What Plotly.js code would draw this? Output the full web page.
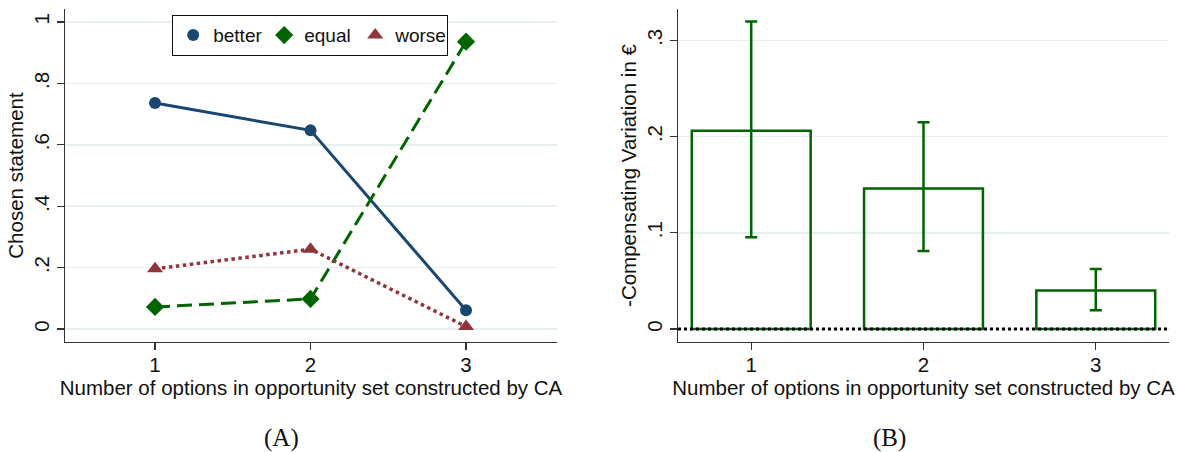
<!DOCTYPE html>
<html>
<head>
<meta charset="utf-8">
<script src="https://cdn.plot.ly/plotly-3.0.1.min.js"></script>
<style>
html,body{margin:0;padding:0;background:#fff;}
#chart{width:1177px;height:452px;}
</style>
</head>
<body>
<div id="chart"></div>
<script>
// ---- data ----
const options = [1, 2, 3];
const better = [0.736, 0.647, 0.061];
const equal = [0.072, 0.098, 0.936];
const worse = [0.196, 0.260, 0.008];

const cvMean = [0.206, 0.146, 0.040];
const cvHigh = [0.3195, 0.215, 0.0625];
const cvLow = [0.0955, 0.081, 0.0195];

const leftTickVals = [0, 0.2, 0.4, 0.6, 0.8, 1];
const leftTickText = ["0", ".2", ".4", ".6", ".8", "1"];
const rightTickVals = [0, 0.1, 0.2, 0.3];
const rightTickText = ["0", ".1", ".2", ".3"];

const xTitle = "Number of options in opportunity set constructed by CA";
const leftYTitle = "Chosen statement";
const rightYTitle = "-Compensating Variation in €";
const panelLabels = ["(A)", "(B)"];

// ---- styles ----
const NAVY = "#1a476f", GREEN = "#006400", MAROON = "#90353b";
const FONT = "Liberation Sans, Arial, Helvetica, sans-serif";
const FS = 20.5;
const W = 1177, H = 452;

const traces = [
  {x: options, y: better, xaxis: "x", yaxis: "y", mode: "lines+markers", name: "better", showlegend: false,
   line: {color: NAVY, width: 3}, marker: {symbol: "circle", size: 12, color: NAVY}},
  {x: options, y: equal, xaxis: "x", yaxis: "y", mode: "lines+markers", name: "equal", showlegend: false,
   line: {color: GREEN, width: 3, dash: "15px,7px"}, marker: {symbol: "diamond", size: 14, color: GREEN}},
  {x: options, y: worse, xaxis: "x", yaxis: "y", mode: "lines+markers", name: "worse", showlegend: false,
   line: {color: MAROON, width: 3.5, dash: "dot"}, marker: {symbol: "triangle-up", size: 14, color: MAROON}},
  // legend entries (marker only)
  {x: [null], y: [null], xaxis: "x", yaxis: "y", mode: "markers", name: "better",
   marker: {symbol: "circle", size: 12, color: NAVY}},
  {x: [null], y: [null], xaxis: "x", yaxis: "y", mode: "markers", name: "equal",
   marker: {symbol: "diamond", size: 14, color: GREEN}},
  {x: [null], y: [null], xaxis: "x", yaxis: "y", mode: "markers", name: "worse",
   marker: {symbol: "triangle-up", size: 14, color: MAROON}},
  // bars
  {x: options, y: cvMean, xaxis: "x2", yaxis: "y2", type: "bar", width: 0.69, showlegend: false,
   marker: {color: "rgba(255,255,255,0)", line: {color: GREEN, width: 2.5}}},
  {x: options, y: cvMean, xaxis: "x2", yaxis: "y2", mode: "markers", showlegend: false,
   marker: {size: 0.1, color: "rgba(0,0,0,0)"},
   error_y: {type: "data", symmetric: false,
     array: cvHigh.map((h, i) => h - cvMean[i]),
     arrayminus: cvLow.map((l, i) => cvMean[i] - l),
     color: GREEN, thickness: 2.5, width: 6}}
];

const axisCommon = {
  showline: true, linecolor: "#333", linewidth: 1.2, ticks: "outside", ticklen: 7,
  tickcolor: "#333", tickwidth: 1.2, zeroline: false,
  tickfont: {family: FONT, size: FS, color: "#111"}
};
const titleFont = {family: FONT, size: FS, color: "#111"};

const layout = {
  width: W, height: H,
  margin: {l: 0, r: 0, t: 0, b: 0},
  paper_bgcolor: "#fff", plot_bgcolor: "#fff",
  font: {family: FONT, color: "#111"},
  xaxis: Object.assign({}, axisCommon, {
    domain: [65 / W, 557 / W], range: [0.421, 3.585], tickvals: options, ticktext: options.map(String),
    showgrid: false, anchor: "y", ticklabelstandoff: -3,
    title: {text: xTitle, font: titleFont, standoff: 0}
  }),
  yaxis: Object.assign({}, axisCommon, {
    domain: [110 / H, 443 / H], range: [-0.0423, 1.0423],
    tickvals: leftTickVals, ticktext: leftTickText, tickangle: -90,
    showgrid: true, gridcolor: "#e6eef0", gridwidth: 1.5, anchor: "x",
    title: {text: leftYTitle, font: titleFont, standoff: 0}
  }),
  xaxis2: Object.assign({}, axisCommon, {
    domain: [678 / W, 1169 / W], range: [0.575, 3.425], tickvals: options, ticktext: options.map(String),
    showgrid: false, anchor: "y2", ticklabelstandoff: -3,
    title: {text: xTitle, font: titleFont, standoff: 0}
  }),
  yaxis2: Object.assign({}, axisCommon, {
    domain: [110 / H, 443 / H], range: [-0.0135, 0.3326],
    tickvals: rightTickVals, ticktext: rightTickText, tickangle: -90,
    showgrid: true, gridcolor: "#e6eef0", gridwidth: 1.5, anchor: "x2",
    title: {text: rightYTitle, font: titleFont, standoff: 0}
  }),
  showlegend: true,
  legend: {
    orientation: "h", x: 172 / W, y: (H - 15) / H, xanchor: "left", yanchor: "top",
    bgcolor: "#fff", bordercolor: "#111", borderwidth: 1.2,
    font: {family: FONT, size: 19, color: "#111"},
    entrywidth: 46, entrywidthmode: "pixels", itemclick: false, tracegroupgap: 0
  },
  shapes: [
    {type: "line", xref: "x2 domain", yref: "y2", x0: 0, x1: 1, y0: 0, y1: 0,
     line: {color: "#000", width: 3, dash: "dot"}, layer: "above"}
  ],
  annotations: [
    {text: panelLabels[0], xref: "paper", yref: "paper", x: 281 / W, y: (H - 438) / H,
     xanchor: "center", yanchor: "middle",
     showarrow: false, font: {family: "Liberation Serif, DejaVu Serif, serif", size: 25, color: "#111"}},
    {text: panelLabels[1], xref: "paper", yref: "paper", x: 889 / W, y: (H - 438) / H,
     xanchor: "center", yanchor: "middle",
     showarrow: false, font: {family: "Liberation Serif, DejaVu Serif, serif", size: 25, color: "#111"}}
  ]
};

Plotly.newPlot("chart", traces, layout, {displayModeBar: false, staticPlot: true});
</script>
</body>
</html>
